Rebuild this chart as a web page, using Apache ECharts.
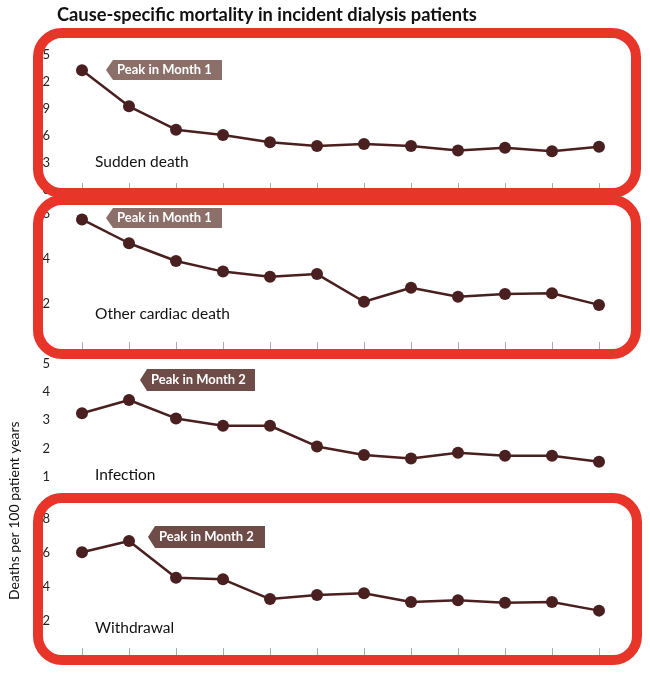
<!DOCTYPE html>
<html>
<head>
<meta charset="utf-8">
<script src="https://cdn.jsdelivr.net/npm/echarts@6/dist/echarts.min.js"></script>
<style>
html,body{margin:0;padding:0;background:#fff;}
#chart{width:650px;height:677px;}
</style>
</head>
<body>
<div id="chart"></div>
<script>
const months = ['1','2','3','4','5','6','7','8','9','10','11','12'];
const panelNames = ['Sudden death', 'Other cardiac death', 'Infection', 'Withdrawal'];
const suddenDeath = [13.3, 9.3, 6.7, 6.1, 5.3, 4.9, 5.1, 4.9, 4.4, 4.7, 4.3, 4.8];
const otherCardiac = [5.76, 4.70, 3.91, 3.44, 3.21, 3.33, 2.10, 2.72, 2.32, 2.44, 2.48, 1.96];
const infection = [3.24, 3.71, 3.06, 2.80, 2.80, 2.07, 1.77, 1.64, 1.85, 1.74, 1.74, 1.53];
const withdrawal = [6.04, 6.71, 4.55, 4.45, 3.29, 3.53, 3.63, 3.12, 3.22, 3.08, 3.12, 2.61];
const yMax = [15, 6, 5, 8];
const yInterval = [3, 2, 1, 2];
const peakLabels = ['Peak in Month 1', 'Peak in Month 1', 'Peak in Month 2', 'Peak in Month 2'];
const seriesData = [suddenDeath, otherCardiac, infection, withdrawal];

const FONT = 'Lato, "Noto Sans", sans-serif';
const LINE = '#4a1f1f';
const RED = '#e8352a';

const grids = [
  {left: 82, width: 517, top: 55, height: 135},
  {left: 82, width: 517, top: 214, height: 135},
  {left: 82, width: 517, top: 363.5, height: 141.5},
  {left: 82, width: 517, top: 519, height: 136}
];

const xAxes = grids.map((g, i) => ({
  type: 'category', gridIndex: i, data: months, boundaryGap: false,
  axisLine: {show: false},
  axisTick: {show: i !== 2, inside: true, length: 7, alignWithLabel: true, lineStyle: {color: '#aaa'}},
  axisLabel: {show: false}
}));
const yAxes = grids.map((g, i) => ({
  type: 'value', gridIndex: i, min: 0, max: yMax[i], interval: yInterval[i],
  axisLine: {show: false}, axisTick: {show: false}, splitLine: {show: false},
  axisLabel: {color: '#222', fontFamily: FONT, fontSize: 13, margin: 32}
}));
const series = seriesData.map((d, i) => ({
  type: 'line', xAxisIndex: i, yAxisIndex: i, data: d,
  symbol: 'circle', symbolSize: 12,
  lineStyle: {color: LINE, width: 2.5},
  itemStyle: {color: LINE},
  z: 5
}));

function box(x1, y1, x2, y2) {
  return {type: 'rect', z: 100,
    shape: {x: x1, y: y1, width: x2 - x1, height: y2 - y1, r: 24},
    style: {fill: 'none', stroke: RED, lineWidth: 10}};
}
function tag(x, y, w, h, text, color) {
  return {type: 'group', z: 50, children: [
    {type: 'polygon', shape: {points: [[x, y + h / 2], [x + 7, y], [x + w, y], [x + w, y + h], [x + 7, y + h]]},
      style: {fill: color}},
    {type: 'text', x: x + 11, y: y + h / 2,
      style: {text: text, fill: '#fff', font: 'bold 13px ' + FONT, verticalAlign: 'middle'}}
  ]};
}
function lbl(x, y, text) {
  return {type: 'text', x: x, y: y, z: 20,
    style: {text: text, fill: '#111', font: '15.5px ' + FONT, verticalAlign: 'middle'}};
}

const option = {
  animation: false,
  backgroundColor: '#fff',
  title: {text: 'Cause-specific mortality in incident dialysis patients', left: 52, top: 1,
    textStyle: {fontFamily: FONT, fontWeight: 'bold', fontSize: 18.3, color: '#111'}},
  grid: grids,
  xAxis: xAxes,
  yAxis: yAxes,
  series: series,
  graphic: [
    box(38, 33, 636, 193),
    box(38, 200, 636, 354),
    box(38, 498, 637, 660),
    tag(106, 60, 116, 20, peakLabels[0], '#8b6f68'),
    tag(106, 208, 116, 20, peakLabels[1], '#8b6f68'),
    tag(140, 369, 115, 22, peakLabels[2], '#6e4c47'),
    tag(148, 526, 117, 22, peakLabels[3], '#6e4c47'),
    lbl(95, 162, panelNames[0]),
    lbl(95, 314, panelNames[1]),
    lbl(95, 475, panelNames[2]),
    lbl(95, 628, panelNames[3]),
    {type: 'text', x: 7, y: 600, rotation: Math.PI / 2, z: 20,
      style: {text: 'Deaths per 100 patient years', fill: '#111', font: '14px ' + FONT, verticalAlign: 'top'}}
  ]
};
const chart = echarts.init(document.getElementById('chart'));
chart.setOption(option);
</script>
</body>
</html>
